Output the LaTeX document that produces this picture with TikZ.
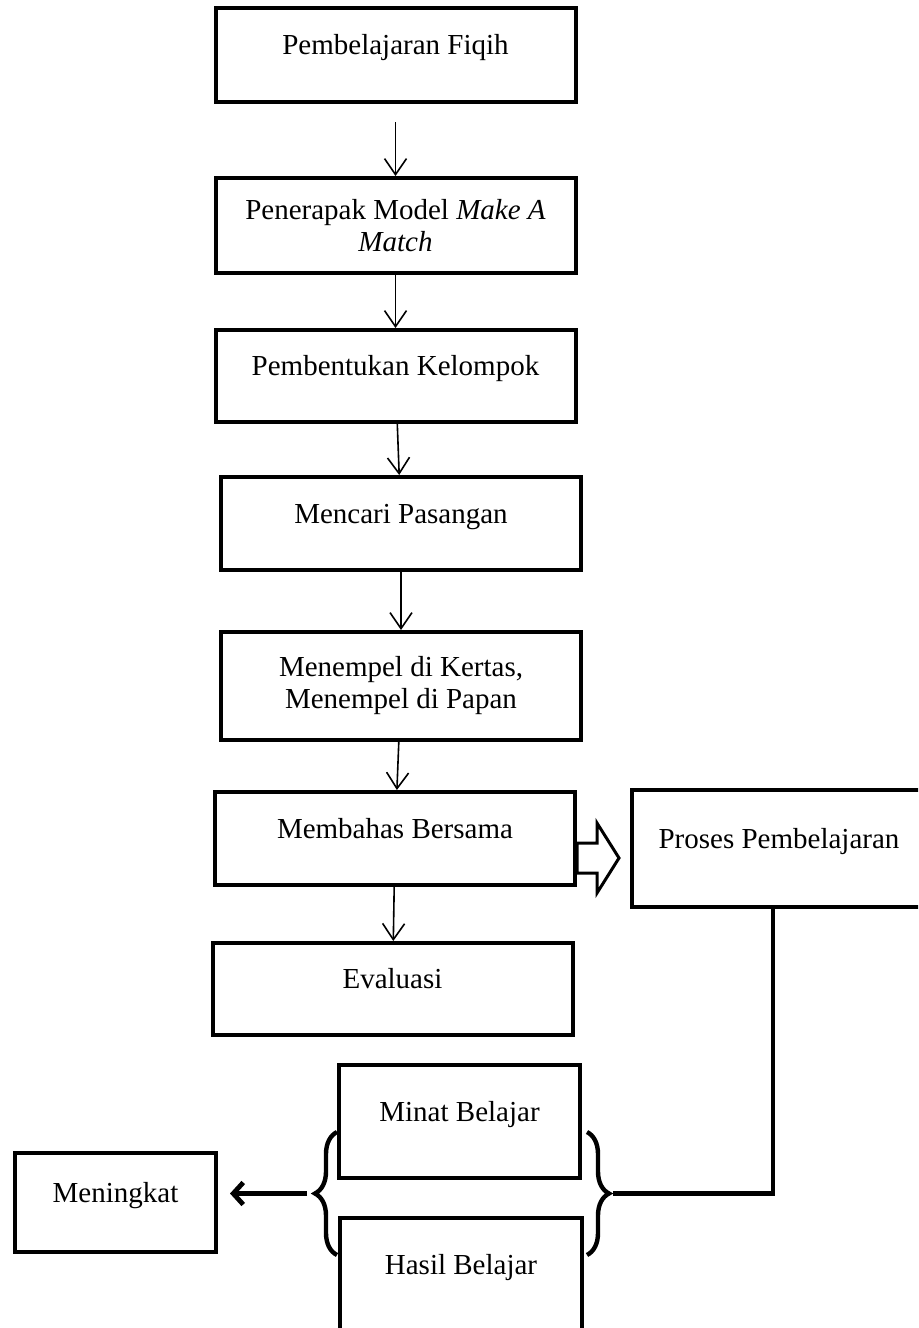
\documentclass[tikz,border=0pt]{standalone}
\usepackage{fontspec}
\setmainfont{Liberation Serif}
\usetikzlibrary{positioning, arrows.meta, decorations.pathreplacing}

\begin{document}
\begin{tikzpicture}
    [
        node distance=75pt and 190pt, on grid,
        box_node/.style={rectangle, draw=black, line width=2pt, minimum width=180pt, minimum height=46.5pt, align=center, inner sep=3pt, font=\fontsize{14.5}{16}\selectfont},
        one_line/.style={text height=10pt, text depth=10.5pt},
        flow_arrow/.style={-{Straight Barb[length=8pt, width=11pt]}, line width=0.8pt},
        thick_line/.style={line width=2.4pt},
        brace_line/.style={decorate, decoration={brace, amplitude=11pt}, line width=2.2pt},
    ]
        \useasboundingbox (0,0) rectangle (459pt,-664pt);
        \clip (0,0) rectangle (459pt,-664pt);
        \node[box_node, one_line, minimum height=47pt] (fiqih) at (197.75pt,-27.5pt) {Pembelajaran Fiqih} ;
        \node[box_node, minimum height=47.5pt] (model) [below=85.25pt of fiqih] {Penerapak Model \textit{Make A}\\\textit{Match}} ;
        \node[box_node, one_line, minimum height=46pt] (kelompok) [below=75.25pt of model] {Pembentukan Kelompok} ;
        \node[box_node, one_line] (pasangan) [below=73.75pt of kelompok, xshift=2.75pt] {Mencari Pasangan} ;
        \node[box_node, minimum height=54pt] (menempel) [below=81.25pt of pasangan] {Menempel di Kertas,\\Menempel di Papan} ;
        \node[box_node, one_line] (membahas) [below=76.25pt of menempel, xshift=-3pt] {Membahas Bersama} ;
        \node[box_node, one_line, minimum height=46pt] (evaluasi) [below=75.25pt of membahas, xshift=-1.25pt] {Evaluasi} ;
        \node[box_node, one_line, minimum width=147pt, minimum height=58.5pt] (proses) [right=192pt of membahas, yshift=-5pt] {Proses Pembelajaran} ;
        \node[box_node, one_line, minimum width=120.5pt, minimum height=56.5pt] (minat) [below=66.25pt of evaluasi, xshift=33.5pt] {Minat Belajar} ;
        \node[box_node, one_line, minimum width=121pt, minimum height=56.5pt] (hasil) [below=76.5pt of minat, xshift=0.75pt] {Hasil Belajar} ;
        \node[box_node, one_line, minimum width=100.5pt, minimum height=49.5pt] (meningkat) [left=172pt of minat, yshift=-40.5pt] {Meningkat} ;
        \draw[flow_arrow, shorten <=9pt] (fiqih) -- (model) ;
        \draw[flow_arrow] (model) -- (kelompok) ;
        \draw[flow_arrow] (kelompok) -- (pasangan) ;
        \draw[flow_arrow] (pasangan) -- (menempel) ;
        \draw[flow_arrow] (menempel) -- (membahas) ;
        \draw[flow_arrow] (membahas) -- (evaluasi) ;
        % hollow arrow to the process box
        \coordinate (panah_pangkal) at ([yshift=-9.75pt]membahas.east) ;
        \draw[line width=1.5pt, fill=white] (panah_pangkal) ++(0,7.5pt) -- ++(10pt,0) -- ++(0,10pt) -- ++(11pt,-17.5pt) -- ++(-11pt,-17.5pt) -- ++(0,10pt) -- ++(-10pt,0) -- cycle ;
        % braces round minat and hasil
        \draw[brace_line] (168.5pt,-627.5pt) -- (168.5pt,-566pt) ;
        \draw[brace_line] (293.5pt,-566pt) -- (293.5pt,-627.5pt) ;
        \coordinate (ujung_kiri) at (157.5pt,-596.75pt) ;
        \coordinate (ujung_kanan) at (304.5pt,-596.75pt) ;
        \draw[thick_line, shorten >=2pt] ([xshift=-3pt]proses.south) |- (ujung_kanan) ;
        \draw[thick_line, -{Straight Barb[length=5pt, width=11pt]}, shorten <=4pt, shorten >=6pt] (ujung_kiri) -- (ujung_kiri -| meningkat.east) ;
    \end{tikzpicture}
\end{document}
